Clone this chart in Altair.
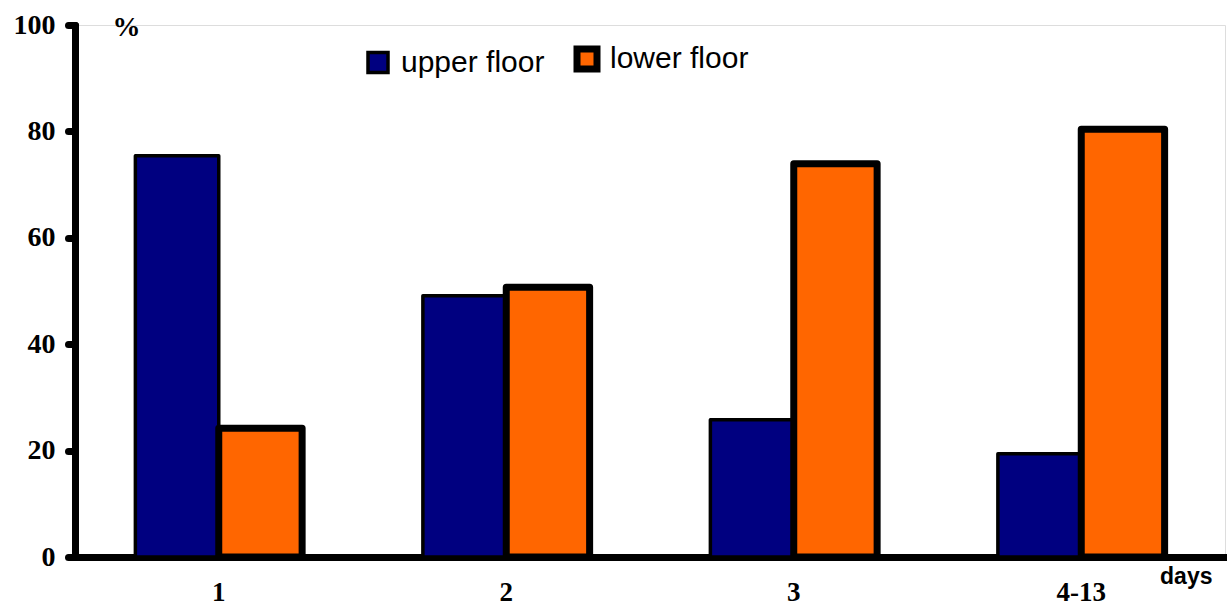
import altair as alt
import pandas as pd

# Share of animals found on each floor, by day
days = ["1", "2", "3", "4-13"]
upper_floor = [75.4, 49.1, 25.8, 19.4]
lower_floor = [24.2, 50.7, 73.9, 80.4]
series = ["upper floor", "lower floor"]
fill_colors = ["#000080", "#FF6600"]
outline_colors = ["black", "black"]
outline_widths = [3.5, 7]
y_ticks = [0, 20, 40, 60, 80, 100]

rows = []
for name, vals in zip(series, [upper_floor, lower_floor]):
    for d, v in zip(days, vals):
        rows.append({"day": d, "floor": name, "pct": v})
df = pd.DataFrame(rows)

serif = "Liberation Serif"
sans = "Liberation Sans"


def floor_legend():
    return alt.Legend(
        orient="none",
        legendX=288,
        legendY=19,
        direction="horizontal",
        title=None,
        labelFont=sans,
        labelFontSize=30,
        labelColor="black",
        symbolType="square",
        symbolSize=400,
        symbolStrokeColor="black",
        labelOffset=8,
        columnPadding=18,
        padding=0,
    )


bars = alt.Chart(df).mark_bar(strokeJoin="round").encode(
    x=alt.X(
        "day:N",
        sort=days,
        scale=alt.Scale(paddingInner=0.42, paddingOuter=0.21),
        axis=alt.Axis(
            labelAngle=0,
            ticks=False,
            tickSize=0,
            domainWidth=7,
            domainColor="black",
            domainCap="square",
            labelFont=serif,
            labelFontWeight="bold",
            labelFontSize=27,
            labelColor="black",
            labelPadding=22,
            title="days",
            titleFont=sans,
            titleFontWeight="bold",
            titleFontSize=23,
            titleColor="black",
            titleX=1137,
            titleY=26,
            titleAlign="right",
            titleBaseline="alphabetic",
        ),
    ),
    xOffset=alt.XOffset("floor:N", sort=series, scale=alt.Scale(paddingInner=0, paddingOuter=0)),
    y=alt.Y(
        "pct:Q",
        scale=alt.Scale(domain=[0, 100], nice=False),
        axis=alt.Axis(
            values=y_ticks,
            grid=False,
            domainWidth=7,
            domainColor="black",
            domainCap="round",
            tickWidth=7,
            tickSize=7,
            tickCap="round",
            tickColor="black",
            labelFont=serif,
            labelFontWeight="bold",
            labelFontSize=28,
            labelColor="black",
            labelPadding=13,
            title="%",
            titleAngle=0,
            titleFont=serif,
            titleFontWeight="bold",
            titleFontSize=28,
            titleColor="black",
            titleX=51,
            titleY=10,
            titleAlign="center",
            titleBaseline="alphabetic",
        ),
    ),
    fill=alt.Fill(
        "floor:N",
        sort=series,
        scale=alt.Scale(domain=series, range=fill_colors),
        legend=floor_legend(),
    ),
    stroke=alt.Stroke(
        "floor:N",
        sort=series,
        scale=alt.Scale(domain=series, range=outline_colors),
        legend=floor_legend(),
    ),
    strokeWidth=alt.StrokeWidth(
        "floor:N",
        sort=series,
        scale=alt.Scale(domain=series, range=outline_widths),
        legend=floor_legend(),
    ),
    order=alt.Order("floor:N", sort="descending"),
)

chart = bars.properties(
    width=1150,
    height=532,
    autosize=alt.AutoSizeParams(type="none"),
    padding={"left": 75, "top": 25, "right": 2, "bottom": 50},
).configure_view(stroke=None).configure(background="white")

chart.save("out.html", embed_options={"renderer": "svg", "actions": False})
